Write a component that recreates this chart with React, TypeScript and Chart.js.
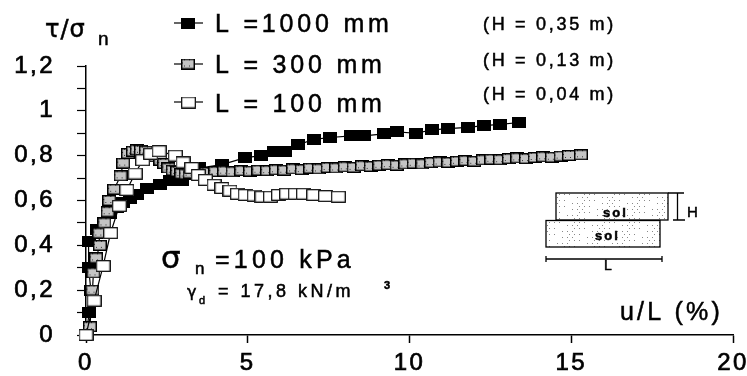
import React, { useEffect, useRef } from "react";
import { Chart, registerables } from "chart.js";

Chart.register(...registerables);

const seriesNames = ["L =1000 mm", "L = 300 mm", "L = 100 mm"];
const heightNotes = ["(H = 0,35 m)", "(H = 0,13 m)", "(H = 0,04 m)"];

const l1000X = [0, 0.1, 0.15, 0.08, 0.08, 0.35, 0.55, 0.75, 0.95, 1.15, 1.35, 1.58, 1.9, 2.3, 2.6, 2.97, 3.5, 4.2, 4.9, 5.4, 5.8, 6.16, 6.56, 7.04, 7.55, 8.2, 8.6, 9.2, 9.6, 10.2, 10.7, 11.2, 11.8, 12.3, 12.8, 13.4];
const l1000Y = [0, 0.1, 0.2, 0.3, 0.417, 0.47, 0.5, 0.54, 0.57, 0.59, 0.61, 0.625, 0.655, 0.67, 0.69, 0.69, 0.745, 0.76, 0.79, 0.8, 0.817, 0.818, 0.848, 0.873, 0.881, 0.888, 0.888, 0.897, 0.906, 0.9, 0.915, 0.921, 0.926, 0.934, 0.94, 0.948];

const l300X = [0, 0.12, 0.2, 0.23, 0.31, 0.43, 0.41, 0.57, 0.67, 0.72, 0.87, 1.07, 1.15, 1.3, 1.45, 1.57, 1.7, 1.85, 2.0, 2.15, 2.3, 2.42, 2.55, 2.68, 2.82, 2.95, 3.08, 3.2, 3.45, 3.72, 4.0, 4.27, 4.53, 4.8, 5.07, 5.33, 5.6, 5.87, 6.13, 6.4, 6.67, 6.93, 7.2, 7.47, 7.73, 8.0, 8.27, 8.53, 8.8, 9.07, 9.33, 9.6, 9.87, 10.13, 10.4, 10.67, 10.93, 11.2, 11.47, 11.73, 12.0, 12.27, 12.53, 12.8, 13.07, 13.33, 13.6, 13.87, 14.13, 14.4, 14.67, 14.93, 15.3];
const l300Y = [0, 0.037, 0.2, 0.277, 0.344, 0.4, 0.455, 0.5, 0.55, 0.6, 0.65, 0.71, 0.767, 0.81, 0.82, 0.826, 0.824, 0.82, 0.81, 0.795, 0.78, 0.765, 0.745, 0.735, 0.73, 0.72, 0.718, 0.722, 0.728, 0.725, 0.729, 0.731, 0.728, 0.733, 0.731, 0.735, 0.733, 0.737, 0.735, 0.741, 0.738, 0.744, 0.741, 0.747, 0.745, 0.75, 0.748, 0.755, 0.752, 0.757, 0.76, 0.757, 0.763, 0.766, 0.763, 0.769, 0.772, 0.77, 0.775, 0.778, 0.775, 0.781, 0.784, 0.782, 0.787, 0.79, 0.787, 0.792, 0.795, 0.793, 0.798, 0.801, 0.804];

const l100X = [0, 0.25, 0.53, 0.76, 1.03, 1.26, 1.52, 1.75, 2.0, 2.26, 2.76, 3.0, 3.27, 3.47, 3.69, 3.96, 4.2, 4.45, 4.68, 4.92, 5.2, 5.44, 5.7, 5.95, 6.2, 6.47, 6.72, 7.04, 7.4, 7.8];
const l100Y = [0, 0.153, 0.308, 0.455, 0.576, 0.647, 0.72, 0.78, 0.808, 0.82, 0.8, 0.77, 0.745, 0.714, 0.692, 0.67, 0.656, 0.644, 0.63, 0.625, 0.622, 0.617, 0.617, 0.625, 0.63, 0.63, 0.63, 0.625, 0.62, 0.617];

const SANS = '"Liberation Sans", Arial, sans-serif';

type Note = [string, number, number, string, string?];
const notes: Note[] = [
  ["τ/σ", 45, 37, `24px "DejaVu Sans"`, "1px"],
  ["n", 98, 45, `19px ${SANS}`],
  [heightNotes[0], 483, 30, `18px ${SANS}`, "2.7px"],
  [heightNotes[1], 483, 66, `18px ${SANS}`, "2.7px"],
  [heightNotes[2], 483, 100, `18px ${SANS}`, "2.7px"],
  ["σ", 161, 268, `31px "DejaVu Sans"`],
  ["n", 195, 274, `17px ${SANS}`],
  ["=100 kPa", 215, 268, `25px ${SANS}`, "4.2px"],
  ["γ", 187, 297, `16px "DejaVu Sans"`],
  ["d", 199, 304, `11px ${SANS}`],
  ["= 17,8 kN/m", 218, 297, `18px ${SANS}`, "3.5px"],
  ["3", 384, 289, `bold 11px ${SANS}`],
  ["u/L (%)", 620, 320, `25px ${SANS}`, "3.2px"],
  ["sol", 603, 217, `bold 13px ${SANS}`, "2px"],
  ["sol", 595, 240, `bold 13px ${SANS}`, "2px"],
  ["H", 687, 217, `15px ${SANS}`],
  ["L", 604, 270, `14px ${SANS}`],
];

const legendRows = [
  { text: seriesNames[0], y: 23, base: 32, spacing: "3.8px" },
  { text: seriesNames[1], y: 64, base: 73, spacing: "3.8px" },
  { text: seriesNames[2], y: 102, base: 112, spacing: "3.8px" },
];

function stipple(ctx: CanvasRenderingContext2D, x: number, y: number, w: number, h: number, color: string) {
  ctx.fillStyle = color;
  for (let j = 1; j < h; j += 3) {
    for (let i = 1 + (j % 2) * 2; i < w; i += 5) {
      if ((i * 7 + j * 13) % 11 < 6) ctx.fillRect(x + i, y + j, 1, 1);
    }
  }
}

function sprite(kind: "black" | "gray" | "white") {
  const c = document.createElement("canvas");
  const w = kind === "white" ? 15 : 14;
  const h = kind === "white" ? 12 : 11;
  c.width = w;
  c.height = h;
  const g = c.getContext("2d")!;
  g.fillStyle = kind === "black" ? "#000" : "#fff";
  g.fillRect(0, 0, w, h);
  if (kind === "gray") {
    g.fillStyle = "#c4c4c4";
    g.fillRect(0, 0, w, h);
    stipple(g, 0, 0, w, h, "#333");
  }
  g.strokeStyle = "#000";
  g.lineWidth = kind === "gray" ? 1.5 : 1.2;
  g.strokeRect(0.7, 0.7, w - 1.4, h - 1.4);
  return c;
}

export default function App() {
  const ref = useRef<HTMLCanvasElement>(null);
  useEffect(() => {
    const sprites = [sprite("black"), sprite("gray"), sprite("white")];
    const zip = (xs: number[], ys: number[]) => xs.map((x, i) => ({ x, y: ys[i] }));
    const ds = (label: string, xs: number[], ys: number[], i: number, order: number) => ({
      label,
      data: zip(xs, ys),
      borderColor: "#000",
      borderWidth: 1.2,
      pointStyle: sprites[i],
      pointRadius: 6,
      tension: 0,
      clip: false,
      order,
    });
    const chart = new Chart(ref.current!, {
      type: "line",
      data: {
        datasets: [
          ds(seriesNames[0], l1000X, l1000Y, 0, 3),
          ds(seriesNames[1], l300X, l300Y, 1, 2),
          ds(seriesNames[2], l100X, l100Y, 2, 1),
        ],
      },
      options: {
        responsive: false,
        animation: false,
        events: [],
        layout: { padding: { top: 66, right: 14, left: 0, bottom: 0 } },
        plugins: { legend: { display: false }, tooltip: { enabled: false } },
        scales: {
          x: {
            type: "linear",
            min: 0,
            max: 20,
            afterFit: (s: any) => { s.height = 41; s.paddingRight = 0; s.paddingLeft = 0; },
            border: { color: "#000", width: 1.5 },
            grid: { drawOnChartArea: false, tickLength: 8, color: "#000", tickWidth: 1.5 },
            ticks: {
              stepSize: 5, color: "#000", padding: 6, maxRotation: 0,
              textStrokeColor: "#000", textStrokeWidth: 0.7,
              font: { family: "Liberation Sans", size: 24 },
            },
          },
          y: {
            min: 0,
            max: 1.2,
            afterFit: (s: any) => { s.width = 86; s.paddingTop = 0; s.paddingBottom = 0; },
            border: { color: "#000", width: 1.5 },
            grid: { drawOnChartArea: false, tickLength: 9, color: "#000", tickWidth: 1.2 },
            ticks: {
              stepSize: 0.1,
              autoSkip: false,
              color: "#000",
              padding: 22,
              textStrokeColor: "#000", textStrokeWidth: 0.7,
              font: { family: "Liberation Sans", size: 24 },
              callback: (v: any) => {
                const t = Math.round(Number(v) * 10);
                return t % 2 === 0 ? String(t / 10).replace(".", ",") : "";
              },
            },
          },
        },
      },
      plugins: [
        {
          id: "spacing",
          beforeDraw(c: any) {
            c.ctx.letterSpacing = "2.5px";
            c.ctx.fillStyle = "#fff";
            c.ctx.fillRect(0, 0, c.width, c.height);
          },
          afterDraw(c: any) {
            const g: CanvasRenderingContext2D = c.ctx;
            g.save();
            g.fillStyle = "#000";
            g.textAlign = "left";
            g.textBaseline = "alphabetic";
            const put = (t: string, x: number, y: number, f: string, sp = "0px") => {
              g.font = f;
              (g as any).letterSpacing = sp;
              g.fillStyle = "#000";
              g.strokeStyle = "#000";
              g.lineWidth = 0.5;
              g.fillText(t, x, y);
              g.strokeText(t, x, y);
            };
            // soil block sketch
            stipple(g, 556, 193, 112, 27, "#888");
            stipple(g, 546, 221, 114, 26, "#888");
            notes.forEach(([t, x, y, f, sp]) => put(t, x, y, f, sp));
            legendRows.forEach((r, i) => {
              g.strokeStyle = "#000";
              g.lineWidth = 1.2;
              g.beginPath();
              g.moveTo(174, r.y);
              g.lineTo(203, r.y);
              g.stroke();
              g.drawImage(sprites[i], 181, r.y - 5.5);
              put(r.text, 215, r.base, `25px ${SANS}`, r.spacing);
            });
            g.strokeStyle = "#000";
            g.lineWidth = 1.3;
            g.strokeRect(556, 193, 112, 27);
            g.strokeRect(546, 220.5, 114, 26.5);
            g.beginPath();
            g.moveTo(668, 193); g.lineTo(684, 193);
            g.moveTo(677.5, 193); g.lineTo(677.5, 220);
            g.moveTo(673, 220); g.lineTo(685, 220);
            g.moveTo(546, 259); g.lineTo(662, 259);
            g.moveTo(546, 256); g.lineTo(546, 262);
            g.moveTo(662, 256); g.lineTo(662, 262);
            g.stroke();
            g.restore();
          },
        },
      ],
    } as any);
    return () => chart.destroy();
  }, []);
  return (
    <canvas
      ref={ref}
      width={747}
      height={376}
      style={{ position: "fixed", left: 0, top: 0, width: 747, height: 376, display: "block" }}
    />
  );
}
